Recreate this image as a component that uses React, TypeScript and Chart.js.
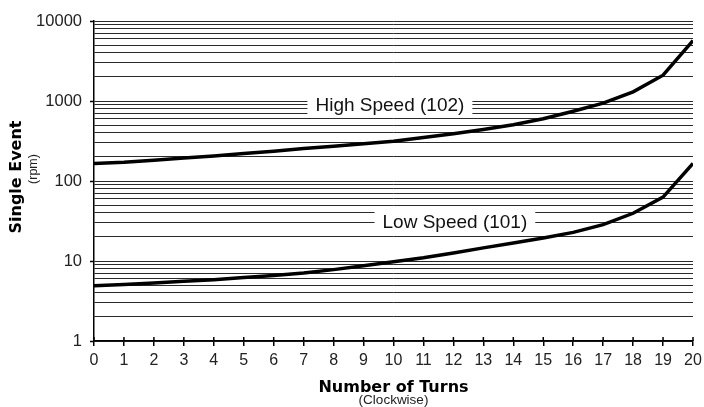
import React, { useEffect, useRef } from 'react';
import { Chart, registerables } from 'chart.js';

Chart.register(...registerables);

const turns = [0, 1, 2, 3, 4, 5, 6, 7, 8, 9, 10, 11, 12, 13, 14, 15, 16, 17, 18, 19, 20];
const highSpeed = [166, 172, 182, 194, 206, 220, 236, 254, 272, 292, 315, 350, 390, 440, 505, 600, 745, 940, 1300, 2100, 5700];
const lowSpeed = [4.9, 5.1, 5.3, 5.6, 5.85, 6.2, 6.6, 7.1, 7.8, 8.7, 9.8, 11.0, 12.6, 14.6, 16.8, 19.4, 22.8, 28.5, 39.5, 63, 166];
const yMajorTicks = [1, 10, 100, 1000, 10000];
const seriesLabels = ['High Speed (102)', 'Low Speed (101)'];
const labelAnchors = [
  { x: 9.88, y: 900 },
  { x: 12.05, y: 30.5 },
];
const xTitle = 'Number of Turns';
const xSubtitle = '(Clockwise)';
const yTitle = 'Single Event';
const ySubtitle = '(rpm)';

const FONT = "'Liberation Sans', Arial, Helvetica, sans-serif";
const BOLD = "'DejaVu Sans', 'Liberation Sans', sans-serif";

export default function App() {
  const ref = useRef<HTMLCanvasElement>(null);

  useEffect(() => {
    const canvas = ref.current;
    if (!canvas) return;
    const isMajor = (v: number) => yMajorTicks.includes(v);

    const overlay = {
      id: 'overlay',
      afterDatasetsDraw(chart: any) {
        const { ctx, chartArea } = chart;
        const x = chart.scales.x;
        const y = chart.scales.y;
        ctx.save();
        // inner part of x tick marks
        ctx.strokeStyle = '#000';
        ctx.lineWidth = 1.5;
        turns.forEach((t) => {
          const px = x.getPixelForValue(t);
          ctx.beginPath();
          ctx.moveTo(px, chartArea.bottom - 4);
          ctx.lineTo(px, chartArea.bottom);
          ctx.stroke();
        });
        // series labels
        ctx.font = `19px ${FONT}`;
        ctx.textAlign = 'center';
        ctx.textBaseline = 'middle';
        seriesLabels.forEach((s, i) => {
          const cx = x.getPixelForValue(labelAnchors[i].x);
          const cy = y.getPixelForValue(labelAnchors[i].y);
          const w = ctx.measureText(s).width;
          ctx.fillStyle = '#fff';
          ctx.fillRect(cx - w / 2 - 8, cy - 11, w + 16, 22);
          ctx.fillStyle = '#111';
          ctx.fillText(s, cx, cy + 1);
        });
        // axis titles
        const midX = (chartArea.left + chartArea.right) / 2;
        ctx.textBaseline = 'alphabetic';
        ctx.fillStyle = '#000';
        ctx.font = `bold 16px ${BOLD}`;
        ctx.fillText(xTitle, midX, 392);
        ctx.fillStyle = '#222';
        ctx.font = `13.5px ${FONT}`;
        ctx.fillText(xSubtitle, midX, 404);

        ctx.save();
        ctx.translate(20.5, 177);
        ctx.rotate(-Math.PI / 2);
        ctx.fillStyle = '#000';
        ctx.font = `bold 16px ${BOLD}`;
        ctx.fillText(yTitle, 0, 0);
        ctx.restore();

        ctx.save();
        ctx.translate(36.5, 169);
        ctx.rotate(-Math.PI / 2);
        ctx.fillStyle = '#222';
        ctx.font = `12.5px ${FONT}`;
        ctx.fillText(ySubtitle, 0, 0);
        ctx.restore();

        ctx.restore();
      },
    };

    const chart = new Chart(canvas, {
      type: 'line',
      data: {
        datasets: [
          {
            label: seriesLabels[0],
            data: turns.map((t, i) => ({ x: t, y: highSpeed[i] })),
            borderColor: '#000',
            borderWidth: 3.5,
            pointRadius: 0,
            tension: 0,
            fill: false,
          },
          {
            label: seriesLabels[1],
            data: turns.map((t, i) => ({ x: t, y: lowSpeed[i] })),
            borderColor: '#000',
            borderWidth: 3.5,
            pointRadius: 0,
            tension: 0,
            fill: false,
          },
        ],
      },
      options: {
        responsive: false,
        animation: false,
        layout: { padding: { left: 0, right: 11, top: 21, bottom: 0 } },
        plugins: {
          legend: { display: false },
          tooltip: { enabled: false },
        },
        scales: {
          x: {
            type: 'linear',
            min: 0,
            max: 20,
            afterFit: (scale: any) => {
              scale.height = 66;
              scale.paddingLeft = 0;
              scale.paddingRight = 0;
            },
            ticks: {
              stepSize: 1,
              color: '#222',
              font: { family: FONT, size: 16 },
              padding: 5,
              maxRotation: 0,
            },
            grid: {
              drawOnChartArea: false,
              tickLength: 5,
              color: '#000',
              lineWidth: 1.5,
            },
            border: { color: '#000', width: 1.5 },
          },
          y: {
            type: 'logarithmic',
            min: 1,
            max: 10000,
            afterFit: (scale: any) => {
              scale.width = 94;
            },
            afterBuildTicks: (scale: any) => {
              const ticks: { value: number }[] = [];
              for (let d = 0; d < yMajorTicks.length - 1; d++) {
                for (let m = 1; m <= 9; m++) ticks.push({ value: yMajorTicks[d] * m });
              }
              ticks.push({ value: yMajorTicks[yMajorTicks.length - 1] });
              scale.ticks = ticks;
            },
            ticks: {
              autoSkip: false,
              color: '#222',
              font: { family: FONT, size: 16.5 },
              padding: 8,
              callback: (v: any) => (isMajor(Number(v)) ? String(v) : ''),
            },
            grid: {
              color: '#2a2a2a',
              lineWidth: 1,
              tickLength: 4,
              tickWidth: 1.5,
              tickColor: (c: any) => (c.tick && isMajor(c.tick.value) ? '#000' : 'rgba(0,0,0,0)'),
            },
            border: { color: '#000', width: 1.5 },
          },
        },
      },
      plugins: [overlay],
    } as any);

    return () => chart.destroy();
  }, []);

  return (
    <div style={{ position: 'absolute', left: 0, top: 0, width: 704, height: 407, background: '#fff' }}>
      <canvas ref={ref} width={704} height={407} style={{ display: 'block' }} />
    </div>
  );
}
